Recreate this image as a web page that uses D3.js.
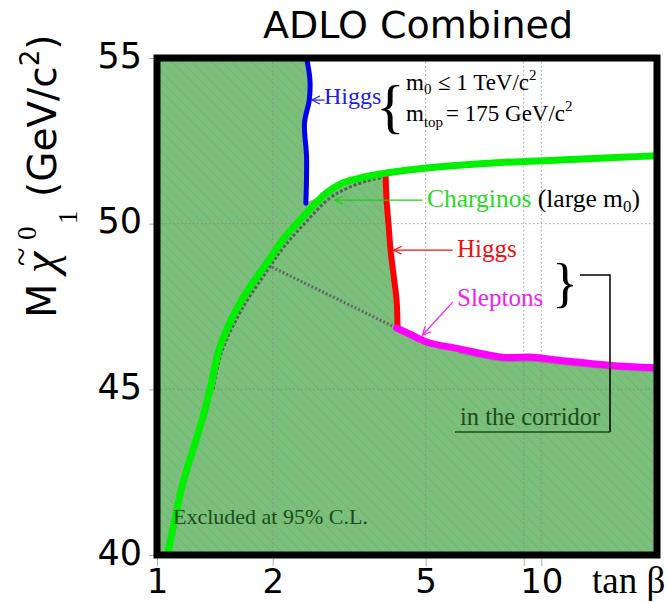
<!DOCTYPE html>
<html>
<head>
<meta charset="utf-8">
<script src="https://cdn.jsdelivr.net/npm/d3@7"></script>
<style>
body { margin: 0; background: #fff; }
svg { display: block; }
.sans { font-family: "Comic Sans MS", "DejaVu Sans", sans-serif; }
.serif { font-family: "Liberation Serif", "Times New Roman", serif; }
</style>
</head>
<body>
<div id="chart"></div>
<script>
// tick values
var xTicks = [1, 2, 5, 9, 10];
var xGrid = [2, 5, 9, 10];
var yTicks = [40, 45, 50, 55];

// curves as [tan beta, mass]
var higgsLow = [[2.45, 55], [2.50, 54.34], [2.49, 53.73], [2.42, 53.04], [2.45, 52.01], [2.44, 50.62]];
var charginos = [[1.068, 40.06], [1.094, 40.66], [1.134, 41.51], [1.168, 42.17], [1.240, 43.17],
    [1.317, 44.16], [1.373, 44.98], [1.458, 46.28], [1.643, 47.60], [1.797, 48.30], [1.931, 48.81],
    [2.125, 49.51], [2.394, 50.20], [2.764, 50.93], [3.042, 51.23], [3.470, 51.41], [3.957, 51.53],
    [5.027, 51.68], [7.46, 51.83], [11.14, 51.92], [16.63, 52.01], [20, 52.05]];
var chargShadow = [[1.40, 45.0], [1.47, 46.1], [1.66, 47.4], [1.94, 48.6], [2.14, 49.3], [2.42, 50.0],
    [2.80, 50.75], [3.10, 51.05], [3.50, 51.28], [3.96, 51.42]];
var higgsHigh = [[3.934, 51.50], [3.957, 50.71], [4.005, 49.96], [4.053, 49.20], [4.126, 48.45], [4.201, 47.70], [4.227, 46.85]];
var sleptons = [[4.201, 46.85], [4.541, 46.67], [5.027, 46.43], [6.124, 46.22], [7.92, 45.97], [9.475, 45.97],
    [11.14, 45.88], [15.02, 45.73], [20, 45.65]];
var slepShadow = [[6.1, 46.14], [7.9, 45.9], [9.5, 45.89], [11.1, 45.8], [15.0, 45.66], [20, 45.58]];
var corridor = [[1.99, 48.69], [4.20, 46.85]];

var width = 668, height = 602;
var margin = {top: 58, right: 11, bottom: 47, left: 157};

var x = d3.scaleLog()
    .domain([1, 20])
    .range([margin.left, width - margin.right]);

var y = d3.scaleLinear()
    .domain([40, 55])
    .range([height - margin.bottom, margin.top]);

var svg = d3.select("#chart").append("svg")
    .attr("width", width)
    .attr("height", height);

var defs = svg.append("defs");

// hatched green for the excluded area
var pat = defs.append("pattern")
    .attr("id", "hatch")
    .attr("patternUnits", "userSpaceOnUse")
    .attr("width", 10)
    .attr("height", 10);
pat.append("rect").attr("width", 10).attr("height", 10).attr("fill", "#7dbd7d");
pat.append("path")
    .attr("d", "M-1,-1L11,11M-1,9L1,11M9,-1L11,1")
    .attr("stroke", "#5cc25c")
    .attr("stroke-width", 1);

defs.append("clipPath").attr("id", "plot")
    .append("rect")
    .attr("x", x(1)).attr("y", y(55))
    .attr("width", x(20) - x(1)).attr("height", y(40) - y(55));

function arrowHead(id, col) {
    defs.append("marker")
        .attr("id", id)
        .attr("markerUnits", "userSpaceOnUse")
        .attr("markerWidth", 12).attr("markerHeight", 12)
        .attr("refX", 9).attr("refY", 5)
        .attr("orient", "auto")
        .append("path")
        .attr("d", "M1,1L9,5L1,9")
        .attr("fill", "none")
        .attr("stroke", col)
        .attr("stroke-width", 1.2);
}
arrowHead("a-blue", "#2020e0");
arrowHead("a-green", "#22cc22");
arrowHead("a-red", "#ee1111");
arrowHead("a-mag", "#ee22ee");

var line = d3.line()
    .x(function(d) { return x(d[0]); })
    .y(function(d) { return y(d[1]); })
    .curve(d3.curveCatmullRom);

// excluded region: top-left corner, blue Higgs, charginos, red Higgs, sleptons, bottom
var region = [[1, 55]].concat(higgsLow)
    .concat(charginos.filter(function(d) { return d[0] > 2.45 && d[0] < 3.93; }))
    .concat(higgsHigh)
    .concat(sleptons.slice(1))
    .concat([[20, 40], [1, 40]]);

var plot = svg.append("g").attr("clip-path", "url(#plot)");

plot.append("path")
    .attr("d", d3.line().x(function(d) { return x(d[0]); }).y(function(d) { return y(d[1]); })(region) + "Z")
    .attr("fill", "url(#hatch)");

// dotted grid
plot.selectAll(".vgrid")
    .data(xGrid)
    .enter().append("line")
    .attr("class", "vgrid")
    .attr("x1", function(d) { return x(d); }).attr("x2", function(d) { return x(d); })
    .attr("y1", y(55)).attr("y2", y(40))
    .attr("stroke", "#888").attr("stroke-width", 0.8).attr("stroke-dasharray", "1.5,2.5");
plot.selectAll(".hgrid")
    .data([45, 50])
    .enter().append("line")
    .attr("class", "hgrid")
    .attr("y1", function(d) { return y(d); }).attr("y2", function(d) { return y(d); })
    .attr("x1", x(1)).attr("x2", x(20))
    .attr("stroke", "#888").attr("stroke-width", 0.8).attr("stroke-dasharray", "1.5,2.5");

// grey dotted lines
plot.append("path").datum(corridor)
    .attr("d", line).attr("fill", "none")
    .attr("stroke", "#666").attr("stroke-width", 3).attr("stroke-dasharray", "2,2");
plot.append("path").datum(chargShadow)
    .attr("d", line).attr("fill", "none")
    .attr("stroke", "#4a6a4a").attr("stroke-width", 3).attr("stroke-dasharray", "3,2");
plot.append("path").datum(slepShadow)
    .attr("d", line).attr("fill", "none")
    .attr("stroke", "#888").attr("stroke-width", 4);

// limit curves
plot.append("path").datum(higgsLow)
    .attr("d", line).attr("fill", "none")
    .attr("stroke", "#0000ee").attr("stroke-width", 5).attr("stroke-linecap", "round");
plot.append("path").datum(higgsHigh)
    .attr("d", line).attr("fill", "none")
    .attr("stroke", "#ff0000").attr("stroke-width", 6);
plot.append("path").datum(sleptons)
    .attr("d", line).attr("fill", "none")
    .attr("stroke", "#ff00ff").attr("stroke-width", 7).attr("stroke-linecap", "round");
plot.append("path").datum(charginos)
    .attr("d", line).attr("fill", "none")
    .attr("stroke", "#00f000").attr("stroke-width", 7).attr("stroke-linecap", "round");

// axes
var xAxis = svg.append("g")
    .attr("class", "x axis sans")
    .attr("transform", "translate(0," + y(40) + ")")
    .call(d3.axisBottom(x).tickValues(xTicks).tickSize(11)
        .tickFormat(function(d) { return d == 9 ? "" : d; }));
xAxis.select(".domain").remove();
xAxis.selectAll("line").attr("stroke", "#aaa");
xAxis.selectAll("text")
    .attr("y", 38).attr("dy", null)
    .attr("font-size", 34).attr("fill", "#000")
    .style("font-family", "'Comic Sans MS', 'DejaVu Sans', sans-serif");

var yAxis = svg.append("g")
    .attr("class", "y axis sans")
    .attr("transform", "translate(" + x(1) + ",0)")
    .call(d3.axisLeft(y).tickValues(yTicks).tickSize(8));
yAxis.select(".domain").remove();
yAxis.selectAll("line").attr("stroke", "#aaa");
yAxis.selectAll("text")
    .attr("x", -15).attr("dy", null).attr("y", 9)
    .attr("font-size", 35).attr("fill", "#000")
    .style("font-family", "'Comic Sans MS', 'DejaVu Sans', sans-serif");

// frame
svg.append("rect")
    .attr("x", x(1)).attr("y", y(55))
    .attr("width", x(20) - x(1)).attr("height", y(40) - y(55))
    .attr("fill", "none").attr("stroke", "#000").attr("stroke-width", 7);

// title
svg.append("text")
    .attr("class", "sans")
    .attr("x", 418).attr("y", 38)
    .attr("text-anchor", "middle")
    .attr("font-size", 38)
    .text("ADLO Combined");

// x label
svg.append("text")
    .attr("class", "serif")
    .attr("x", 592).attr("y", 593)
    .attr("font-size", 37)
    .text("tan β");

// y label, written along the rotated baseline
var yl = svg.append("g")
    .attr("transform", "translate(56,318) rotate(-90)");
yl.append("text").attr("class", "sans").attr("font-size", 40).text("M");
yl.append("text").attr("class", "serif").attr("font-style", "italic")
    .attr("x", 45).attr("font-size", 48).text("χ");
yl.append("text").attr("class", "serif")
    .attr("x", 52).attr("y", -24).attr("font-size", 34).text("~");
yl.append("text").attr("class", "serif")
    .attr("x", 78).attr("y", -20).attr("font-size", 27).text("0");
yl.append("text").attr("class", "serif")
    .attr("x", 94).attr("y", 21).attr("font-size", 27).text("1");
var yu = yl.append("text").attr("class", "sans")
    .attr("x", 121).attr("font-size", 39);
yu.append("tspan").text("(GeV/c");
yu.append("tspan").attr("font-size", 26).attr("dy", -17).text("2");
yu.append("tspan").attr("dy", 17).text(")");

// annotations
function arrow(x1, y1, x2, y2, col, id) {
    svg.append("line")
        .attr("x1", x(x1)).attr("y1", y(y1))
        .attr("x2", x(x2)).attr("y2", y(y2))
        .attr("stroke", col).attr("stroke-width", 1.2)
        .attr("marker-end", "url(#" + id + ")");
}

arrow(2.73, 53.73, 2.53, 53.73, "#2020e0", "a-blue");
svg.append("text").attr("class", "serif")
    .attr("x", 324).attr("y", 104).attr("font-size", 24).attr("fill", "#2020e0")
    .text("Higgs");
svg.append("text").attr("class", "serif")
    .attr("x", 376).attr("y", 126).attr("font-size", 60).text("{");

var l1 = svg.append("text").attr("class", "serif").attr("x", 406).attr("y", 90).attr("font-size", 23);
l1.append("tspan").text("m");
l1.append("tspan").attr("font-size", 15).attr("dy", 4).text("0");
l1.append("tspan").attr("x", 438).attr("dy", -4).text("≤ 1 TeV/c");
l1.append("tspan").attr("font-size", 15).attr("dy", -10).text("2");

var l2 = svg.append("text").attr("class", "serif").attr("x", 406).attr("y", 121).attr("font-size", 23);
l2.append("tspan").text("m");
l2.append("tspan").attr("font-size", 15).attr("dy", 6).text("top");
l2.append("tspan").attr("dx", 3).attr("dy", -6).text("= 175 GeV/c");
l2.append("tspan").attr("font-size", 15).attr("dy", -10).text("2");

arrow(4.91, 50.71, 2.90, 50.71, "#22cc22", "a-green");
var ch = svg.append("text").attr("class", "serif").attr("x", 427).attr("y", 207).attr("font-size", 25.5);
ch.append("tspan").attr("fill", "#22dd22").text("Charginos ");
ch.append("tspan").text("(large m");
ch.append("tspan").attr("font-size", 17).attr("dy", 5).text("0");
ch.append("tspan").attr("dy", -5).text(")");

arrow(5.88, 49.20, 4.13, 49.20, "#ee1111", "a-red");
svg.append("text").attr("class", "serif")
    .attr("x", 457).attr("y", 257).attr("font-size", 25).attr("fill", "#ee1111")
    .text("Higgs");

arrow(5.88, 47.63, 4.91, 46.64, "#ee22ee", "a-mag");
svg.append("text").attr("class", "serif")
    .attr("x", 457).attr("y", 306).attr("font-size", 25).attr("fill", "#ee22ee")
    .text("Sleptons");

svg.append("text").attr("class", "serif")
    .attr("x", 552).attr("y", 301).attr("font-size", 54).text("}");
svg.append("path")
    .attr("d", "M580,275H610V432")
    .attr("fill", "none").attr("stroke", "#000").attr("stroke-width", 1.5);
svg.append("path")
    .attr("d", "M455,432H610")
    .attr("fill", "none").attr("stroke", "#1a4d1a").attr("stroke-width", 1.5);
svg.append("text").attr("class", "serif")
    .attr("x", 460).attr("y", 425).attr("font-size", 24.5).attr("fill", "#1a4d1a")
    .text("in the corridor");

svg.append("text").attr("class", "serif")
    .attr("x", 173).attr("y", 524).attr("font-size", 22).attr("fill", "#1a4d1a")
    .text("Excluded at 95% C.L.");
</script>
</body>
</html>
